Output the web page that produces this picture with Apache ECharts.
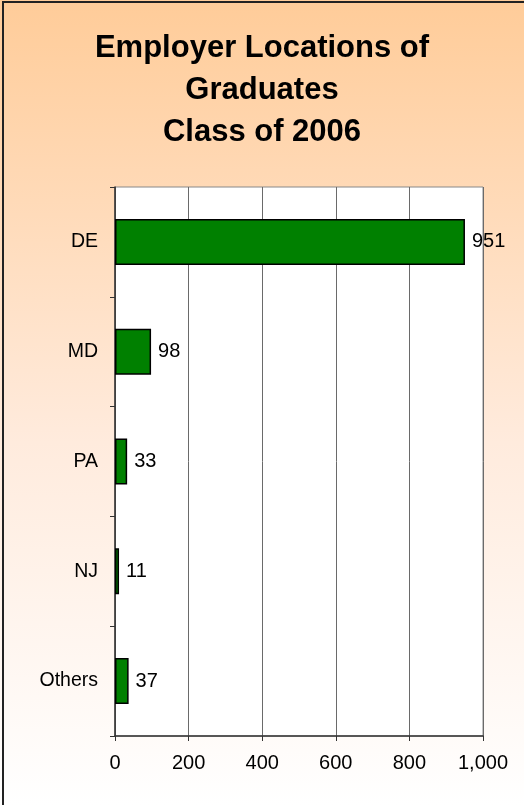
<!DOCTYPE html>
<html>
<head>
<meta charset="utf-8">
<script src="https://cdn.jsdelivr.net/npm/echarts@6/dist/echarts.min.js"></script>
<style>
  html, body { margin: 0; padding: 0; }
  #chart { width: 524px; height: 805px; }
</style>
</head>
<body>
<div id="chart"></div>
<script>
// data
const categories = ['DE', 'MD', 'PA', 'NJ', 'Others']
const graduates = [951, 98, 33, 11, 37]
const xTicks = [0, 200, 400, 600, 800, 1000]

const chart = echarts.init(document.getElementById('chart'))
const font = 'Liberation Sans, Arial, sans-serif'

chart.setOption({
  backgroundColor: {
    type: 'linear',
    x: 0, y: 0, x2: 0, y2: 1,
    colorStops: [
      { offset: 0, color: '#FFCC99' },
      { offset: 0.55, color: '#FFEBDD' },
      { offset: 1, color: '#FFFFFF' }
    ]
  },
  title: {
    text: 'Employer Locations of\nGraduates\nClass of 2006',
    left: 'center',
    top: 23,
    textStyle: {
      fontFamily: font,
      fontSize: 31,
      fontWeight: 'bold',
      color: '#000',
      lineHeight: 41.7
    }
  },
  graphic: [
    {
      type: 'rect',
      shape: { x: 3, y: 2, width: 540, height: 820 },
      style: { fill: 'none', stroke: '#222', lineWidth: 2 },
      z: 100
    }
  ],
  grid: {
    left: 115,
    right: 41,
    top: 187,
    bottom: 69,
    show: true,
    backgroundColor: '#fff',
    borderColor: '#888',
    borderWidth: 1
  },
  xAxis: {
    type: 'value',
    min: xTicks[0],
    max: xTicks[xTicks.length - 1],
    interval: xTicks[1] - xTicks[0],
    axisLine: { show: true, lineStyle: { color: '#333', width: 1.5 } },
    axisTick: { show: true, length: 5, lineStyle: { color: '#333' } },
    axisLabel: {
      fontFamily: font,
      fontSize: 20,
      color: '#000',
      margin: 17,
      formatter: v => v.toLocaleString('en-US')
    },
    splitLine: { show: true, lineStyle: { color: '#6a6a6a', width: 1 } }
  },
  yAxis: {
    type: 'category',
    data: categories,
    inverse: true,
    axisLine: { show: true, lineStyle: { color: '#333', width: 1.5 } },
    axisTick: { show: true, length: 5, lineStyle: { color: '#333' } },
    axisLabel: {
      fontFamily: font,
      fontSize: 19.5,
      color: '#000',
      margin: 17
    },
    splitLine: { show: false }
  },
  series: [
    {
      type: 'bar',
      data: graduates,
      barWidth: 46,
      itemStyle: {
        color: '#008000',
        borderColor: '#000',
        borderWidth: 1.5
      },
      label: {
        show: true,
        position: 'right',
        distance: 7,
        fontFamily: font,
        fontSize: 20,
        color: '#000'
      }
    }
  ]
})
</script>
</body>
</html>
